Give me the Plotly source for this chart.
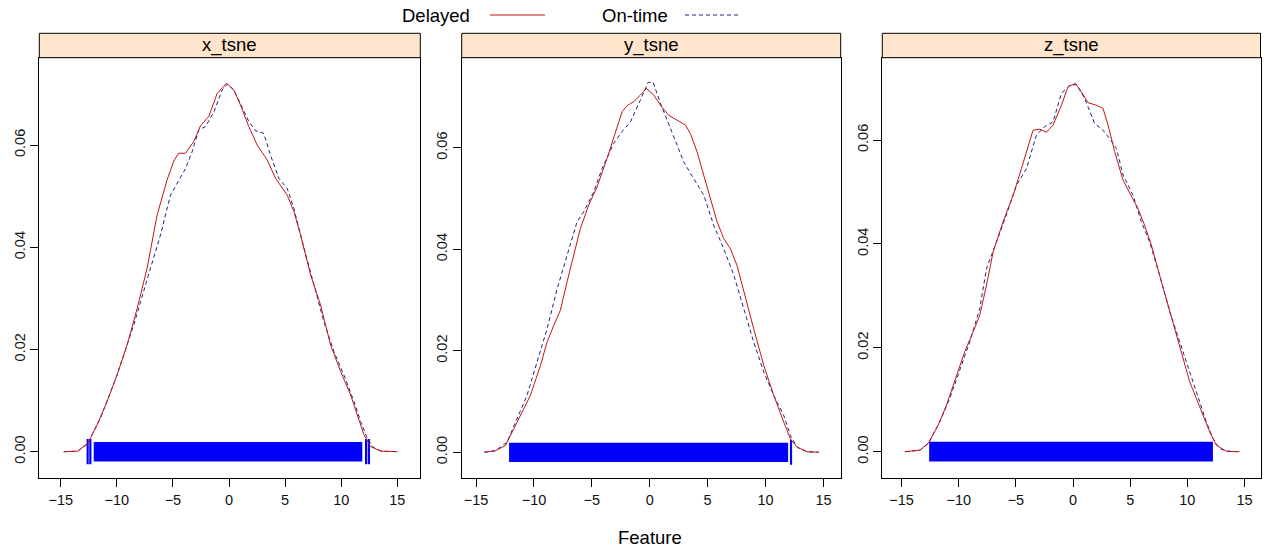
import plotly.graph_objects as go

W, H = 1266, 549

panels = ["x_tsne", "y_tsne", "z_tsne"]
x_ticks = [-15, -10, -5, 0, 5, 10, 15]
y_ticks = [0.00, 0.02, 0.04, 0.06]
y_tick_text = ["0.00", "0.02", "0.04", "0.06"]

# ---- x_tsne ----
x_delayed_x = [-14.73, -13.5, -12.6, -11.77, -10.87, -9.98, -9.08, -8.19, -7.3, -6.41, -5.52, -4.92, -4.48,
               -3.88, -3.14, -2.54, -1.8, -1.06, -0.22, 0.43, 1.03, 1.77, 2.51, 3.4, 4.15, 5.19, 5.78,
               6.38, 7.27, 8.16, 9.05, 9.95, 10.84, 11.44, 12.03, 12.63, 13.52, 15.0]
x_delayed_y = [0.0, 0.0001, 0.0016, 0.0052, 0.0098, 0.015, 0.0209, 0.028, 0.0359, 0.0463, 0.0532, 0.0569,
               0.0584, 0.0584, 0.0607, 0.0638, 0.0656, 0.0701, 0.0721, 0.0708, 0.0678, 0.0636, 0.06,
               0.0571, 0.0535, 0.0502, 0.047, 0.0424, 0.0346, 0.0287, 0.0209, 0.0157, 0.0111, 0.0072,
               0.0033, 0.001, 0.0001, 0.0]
x_ontime_x = [-14.73, -13.5, -12.6, -11.47, -9.98, -8.49, -7.0, -6.11, -5.22, -4.63, -3.88, -3.29, -2.69,
              -2.1, -1.35, -0.61, -0.16, 0.43, 1.18, 1.77, 2.37, 3.1, 3.7, 4.45, 5.19, 5.78, 6.53, 7.57,
              8.46, 9.35, 10.24, 11.14, 11.73, 12.33, 12.93, 13.6, 15.0]
x_ontime_y = [0.0, 0.0001, 0.0016, 0.0065, 0.015, 0.0248, 0.0359, 0.0424, 0.0502, 0.0525, 0.0554, 0.0587,
              0.063, 0.0636, 0.0665, 0.0708, 0.0719, 0.0708, 0.0672, 0.0646, 0.0628, 0.0623, 0.058,
              0.0535, 0.0515, 0.0476, 0.0411, 0.0326, 0.0254, 0.0196, 0.015, 0.0098, 0.0059, 0.0026,
              0.0007, 0.0001, 0.0]

# ---- y_tsne ----
y_delayed_x = [-14.28, -13.33, -12.47, -11.89, -11.17, -10.31, -9.44, -8.87, -8.29, -7.72, -7.14, -6.56,
               -5.99, -5.27, -4.55, -3.69, -2.97, -2.39, -1.96, -1.38, -0.81, -0.29, 0.35, 0.92, 1.64,
               2.36, 3.08, 3.51, 4.09, 4.66, 5.24, 5.82, 6.39, 6.97, 7.54, 8.12, 8.98, 9.85, 10.71,
               11.58, 12.15, 12.73, 13.59, 14.6]
y_delayed_y = [0.0, 0.0003, 0.0013, 0.0039, 0.0072, 0.0112, 0.0171, 0.0217, 0.025, 0.028, 0.0336, 0.0388,
               0.0441, 0.0487, 0.0523, 0.0579, 0.0628, 0.0671, 0.0683, 0.0691, 0.0704, 0.0717, 0.0704,
               0.0684, 0.0664, 0.0655, 0.0645, 0.0628, 0.0592, 0.0546, 0.05, 0.0454, 0.0421, 0.0401,
               0.0368, 0.0316, 0.0243, 0.0171, 0.0112, 0.0059, 0.0026, 0.001, 0.0001, 0.0]
y_ontime_x = [-14.28, -13.33, -12.32, -11.46, -10.6, -9.73, -8.87, -8.0, -7.14, -6.28, -5.7, -4.84, -4.12,
              -3.11, -2.39, -1.67, -0.81, -0.14, 0.29, 0.92, 1.79, 2.94, 3.8, 4.66, 5.53, 6.39, 7.26,
              8.12, 8.98, 9.85, 10.71, 11.58, 12.15, 12.73, 13.59, 14.6]
y_ontime_y = [0.0, 0.0003, 0.002, 0.0066, 0.0112, 0.0178, 0.0243, 0.0322, 0.0388, 0.0454, 0.0474, 0.0513,
              0.0559, 0.0609, 0.0632, 0.0651, 0.0694, 0.0729, 0.0729, 0.0688, 0.0638, 0.0572, 0.0539,
              0.0507, 0.0447, 0.0401, 0.0349, 0.0283, 0.0217, 0.0158, 0.0112, 0.0072, 0.0033, 0.001,
              0.0001, 0.0]

# ---- z_tsne ----
z_delayed_x = [-14.71, -13.4, -12.67, -11.8, -11.07, -10.2, -9.47, -8.74, -8.16, -7.57, -6.99, -6.12,
               -5.24, -4.52, -3.93, -3.5, -2.91, -2.33, -1.75, -1.02, -0.44, 0.2, 0.73, 1.31, 2.04, 2.62,
               3.06, 3.64, 4.37, 5.1, 5.68, 6.26, 6.85, 7.57, 8.45, 9.32, 10.2, 10.78, 11.36, 11.94,
               12.52, 13.4, 14.56]
z_delayed_y = [0.0, 0.0003, 0.0016, 0.0051, 0.009, 0.0148, 0.0193, 0.0231, 0.0263, 0.0321, 0.0385, 0.0443,
               0.0494, 0.0545, 0.059, 0.0619, 0.0621, 0.0615, 0.0629, 0.0667, 0.0703, 0.0709, 0.0693,
               0.0672, 0.0667, 0.0661, 0.0629, 0.0578, 0.0523, 0.0494, 0.0468, 0.0436, 0.0398, 0.034,
               0.027, 0.0205, 0.0135, 0.0103, 0.0071, 0.0039, 0.0013, 0.0001, 0.0]
z_ontime_x = [-14.71, -13.4, -12.67, -11.65, -10.78, -9.9, -9.03, -8.16, -7.57, -6.7, -5.83, -4.95, -4.08,
              -3.2, -2.48, -1.75, -1.02, -0.29, 0.29, 1.02, 1.89, 2.62, 3.2, 3.79, 4.37, 5.24, 5.97,
              6.7, 7.57, 8.45, 9.32, 10.2, 11.07, 11.65, 12.23, 12.82, 13.5, 14.56]
z_ontime_y = [0.0, 0.0003, 0.0016, 0.0058, 0.0103, 0.016, 0.0212, 0.0276, 0.0353, 0.0404, 0.0456, 0.0513,
              0.0545, 0.061, 0.0626, 0.0635, 0.069, 0.0705, 0.0707, 0.068, 0.0632, 0.0619, 0.0603,
              0.0584, 0.0533, 0.0494, 0.0443, 0.0404, 0.034, 0.027, 0.0212, 0.0154, 0.0096, 0.0058,
              0.0026, 0.0006, 0.0001, 0.0]

# rug (dense block of observations plus isolated ticks)
rug_start = [-12.06, -12.15, -12.59]
rug_end = [11.88, 11.95, 12.24]
rug_ticks = [[-12.6, -12.36, 12.22, 12.47], [12.2], []]

delayed_x = [x_delayed_x, y_delayed_x, z_delayed_x]
delayed_y = [x_delayed_y, y_delayed_y, z_delayed_y]
ontime_x = [x_ontime_x, y_ontime_x, z_ontime_x]
ontime_y = [x_ontime_y, y_ontime_y, z_ontime_y]

# layout geometry (pixels)
px_left = [39.3, 461.7, 882.3]
px_right = [420.3, 840.7, 1260.5]
px_top, px_bottom = 57.7, 478.3
strip_h = 24.4
x_ranges = [[-16.91, 17.05], [-16.24, 16.49], [-16.69, 16.4]]
y_ranges = [[-0.00521, 0.0771], [-0.00513, 0.07776], [-0.00512, 0.07586]]

RED = "#c41515"
NAVY = "#1a237e"
BLUE = "#0000ff"
FONT = "Liberation Sans, Arial, sans-serif"
MAIN_SIZE = 18.5
TICK_SIZE = 14.5

fig = go.Figure()
for i in range(3):
    xa = "x" if i == 0 else f"x{i+1}"
    ya = "y" if i == 0 else f"y{i+1}"
    fig.add_trace(go.Bar(
        y=[0], x=[rug_end[i] - rug_start[i]], base=[rug_start[i]], orientation="h",
        width=[0.0038], marker=dict(color=BLUE, line=dict(width=0)),
        xaxis=xa, yaxis=ya, showlegend=False, hoverinfo="skip"))
    if rug_ticks[i]:
        fig.add_trace(go.Scatter(
            x=rug_ticks[i], y=[0] * len(rug_ticks[i]), mode="markers",
            marker=dict(symbol="line-ns", size=18, line=dict(color=BLUE, width=2.2)),
            xaxis=xa, yaxis=ya, showlegend=False, hoverinfo="skip"))
    fig.add_trace(go.Scatter(
        x=ontime_x[i], y=ontime_y[i], mode="lines", name="On-time",
        line=dict(color=NAVY, width=1, dash="4px,3px"),
        xaxis=xa, yaxis=ya, showlegend=False))
    fig.add_trace(go.Scatter(
        x=delayed_x[i], y=delayed_y[i], mode="lines", name="Delayed",
        line=dict(color=RED, width=1),
        xaxis=xa, yaxis=ya, showlegend=False))

layout = dict(
    width=W, height=H,
    margin=dict(l=0, r=0, t=0, b=0),
    paper_bgcolor="white", plot_bgcolor="white",
    font=dict(family=FONT, color="#000000"),
    barmode="overlay",
    shapes=[], annotations=[],
)
y0 = 1 - px_bottom / H
y1 = 1 - px_top / H
for i in range(3):
    sx = "" if i == 0 else str(i + 1)
    layout[f"xaxis{sx}"] = dict(
        domain=[px_left[i] / W, px_right[i] / W], range=x_ranges[i],
        anchor=f"y{sx}", tickmode="array", tickvals=x_ticks,
        ticks="outside", ticklen=8, tickwidth=1, tickcolor="black",
        showline=True, linecolor="black", linewidth=1, mirror=True,
        showgrid=False, zeroline=False, automargin=False,
        tickfont=dict(size=TICK_SIZE, family=FONT, color="#111"))
    layout[f"yaxis{sx}"] = dict(
        domain=[y0, y1], range=y_ranges[i],
        anchor=f"x{sx}", tickmode="array", tickvals=y_ticks, ticktext=y_tick_text,
        tickangle=-90,
        ticks="outside", ticklen=8, tickwidth=1, tickcolor="black",
        showline=True, linecolor="black", linewidth=1, mirror=True,
        showgrid=False, zeroline=False, automargin=False,
        tickfont=dict(size=TICK_SIZE, family=FONT, color="#111"))
    # strip
    layout["shapes"].append(dict(
        type="rect", xref=f"x{sx} domain", yref=f"y{sx} domain",
        x0=0, x1=1, y0=1, y1=1 + strip_h / (px_bottom - px_top),
        fillcolor="#ffe5cc", line=dict(color="black", width=1), layer="above"))
    layout["annotations"].append(dict(
        text=panels[i], xref=f"x{sx} domain", yref=f"y{sx} domain",
        x=0.5, y=1 + strip_h / 2 / (px_bottom - px_top),
        xanchor="center", yanchor="middle", showarrow=False,
        font=dict(size=MAIN_SIZE, family=FONT, color="black")))

# legend (text then line sample, as in lattice key)
leg_y = 1 - 15 / H
layout["annotations"] += [
    dict(text="Delayed", xref="paper", yref="paper", x=400 / W, y=leg_y,
         xanchor="left", yanchor="middle", showarrow=False, font=dict(size=MAIN_SIZE, family=FONT)),
    dict(text="On-time", xref="paper", yref="paper", x=600 / W, y=leg_y,
         xanchor="left", yanchor="middle", showarrow=False, font=dict(size=MAIN_SIZE, family=FONT)),
    dict(text="Feature", xref="paper", yref="paper", x=650 / W, y=1 - 537 / H,
         xanchor="center", yanchor="middle", showarrow=False, font=dict(size=MAIN_SIZE, family=FONT)),
]
layout["shapes"] += [
    dict(type="line", xref="paper", yref="paper", x0=490 / W, x1=545 / W, y0=leg_y, y1=leg_y,
         line=dict(color=RED, width=1)),
    dict(type="line", xref="paper", yref="paper", x0=685 / W, x1=740 / W, y0=leg_y, y1=leg_y,
         line=dict(color=NAVY, width=1, dash="4px,3px")),
]

fig.update_layout(**layout)
fig.write_html("out.html",
               config={"displayModeBar": False},
               post_script="document.body.style.margin='0';document.body.style.padding='0';"
                           "document.body.style.overflow='hidden';")
